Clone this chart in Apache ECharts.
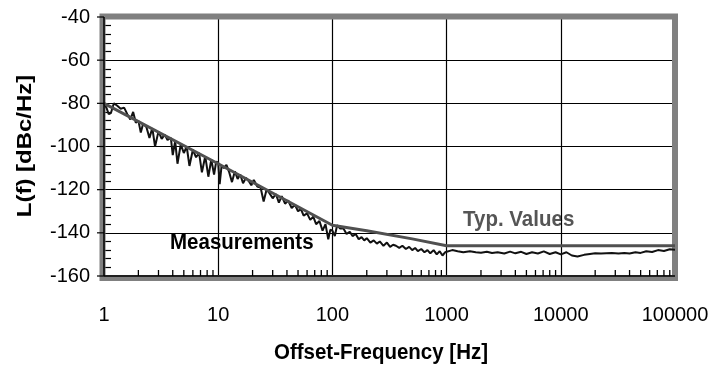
<!DOCTYPE html>
<html>
<head>
<meta charset="utf-8">
<script src="https://cdn.jsdelivr.net/npm/echarts@6/dist/echarts.min.js"></script>
<style>html,body{margin:0;padding:0;background:#fff}#c{width:714px;height:368px}</style>
</head>
<body>
<div id="c"></div>
<script>
// Measured phase noise (frequency in Hz, level in dBc/Hz)
const measFreq = [
  1, 1.05, 1.1, 1.15, 1.22, 1.3, 1.4, 1.5, 1.6, 1.7, 1.8, 1.9, 2.0, 2.1, 2.2, 2.35, 2.5, 2.65, 2.8, 3.0,
  3.2, 3.4, 3.6, 3.85, 4.0, 4.2, 4.4, 4.7, 5.0, 5.3, 5.6, 6.0, 6.4, 6.8, 7.2, 7.7, 8.2, 8.7, 9.2, 9.6,
  10, 10.3, 10.7, 11.2, 11.8, 12.5, 13.2, 14, 14.8, 15.6, 16.5, 17.5, 18.5, 19.5, 20.5, 22, 23.5, 25, 26.5, 28,
  30, 32, 34, 36, 38.5, 41, 44, 47, 50, 53, 56, 60, 64, 68, 72, 77, 82, 87, 92, 96,
  100, 105, 110, 117, 125, 133, 142, 150, 160, 170, 180, 190, 200, 215, 230, 245, 260, 280, 300, 320,
  340, 360, 385, 410, 440, 470, 500, 530, 560, 600, 640, 680, 720, 770, 820, 870, 920, 970,
  1000, 1120, 1250, 1400, 1600, 1800, 2000, 2250, 2500, 2800, 3200, 3600, 4000, 4500, 5000, 5600, 6300, 7100, 8000, 9000,
  10000, 11200, 12500, 14000, 16000, 18000, 20000, 22500, 25000, 28000, 32000, 36000, 40000, 45000, 50000, 56000, 63000, 71000, 80000, 90000, 100000
];
const measLevel = [
  -80, -82, -85, -84.5, -80, -81, -82.5, -82, -85, -87.5, -84, -89, -88, -93.5, -89.5, -91, -96, -91.5, -100, -93,
  -96.5, -94.5, -97, -96, -104, -97.5, -108, -99, -103, -100, -109, -101.5, -105, -103, -112, -104.5, -114, -106, -113, -107,
  -107.5, -117.5, -109, -110, -108.5, -112, -116.5, -111.5, -115, -113, -117, -114.5, -116, -118, -115.5, -118.5, -119, -125.5, -120, -121.5,
  -124, -122, -126, -123, -126.5, -125, -128.5, -127, -130, -129, -132, -131, -134, -132.5, -136, -134.5, -139, -136, -143, -138.5,
  -139, -141.5, -136.5, -138, -138, -140.5, -139.5, -141.5, -140.5, -143, -142, -143.5, -142.5, -144.5, -143.5, -145, -144, -146, -144.5, -146.5,
  -145.5, -146, -147, -146, -147.5, -146.5, -148, -147, -148.5, -147.5, -149, -148, -149.5, -148, -150, -148.5, -150.5, -149,
  -149.5, -148, -148.5, -149, -148.5, -149, -149.2, -148.8, -149.3, -149, -149.6, -148.7, -149.5, -148.8, -149.8, -149, -149.6, -148.6, -149.8, -149,
  -150, -149, -150.5, -151, -150.2, -149.8, -149.5, -149.6, -149.5, -149.4, -149.6, -149.3, -149.6, -149, -149.3, -148.5, -148.9, -148, -148.4, -147.6, -147.8
];
// Typical values curve
const typFreq = [1, 10, 100, 200, 500, 1000, 100000];
const typLevel = [-80, -108, -136.5, -139, -142.8, -146, -146];

// Axis ticks
const xMajorTicks = [1, 10, 100, 1000, 10000, 100000];
const xMinorTicks = [
  2, 3, 4, 5, 6, 7, 8, 9,
  20, 30, 40, 50, 60, 70, 80, 90,
  200, 300, 400, 500, 600, 700, 800, 900,
  2000, 3000, 4000, 5000, 6000, 7000, 8000, 9000,
  20000, 30000, 40000, 50000, 60000, 70000, 80000, 90000
];
const yTicks = [-160, -140, -120, -100, -80, -60, -40];

const FONT = 'Liberation Sans, Arial, Helvetica, sans-serif';
const xMin = xMajorTicks[0];
const xMax = xMajorTicks[xMajorTicks.length - 1];
const yMin = yTicks[0];
const yMax = yTicks[yTicks.length - 1];
const measData = measFreq.map((f, i) => [f, measLevel[i]]);
const typData = typFreq.map((f, i) => [f, typLevel[i]]);
const minorTickData = xMinorTicks.map(f => [f, yMin]);
const yTickData = yTicks.map(v => [xMin, v]);

const chart = echarts.init(document.getElementById('c'), null, {renderer: 'canvas'});
chart.setOption({
  animation: false,
  backgroundColor: '#ffffff',
  grid: {
    left: 104, right: 39, top: 17, bottom: 92,
    show: false
  },
  xAxis: [
    {
      type: 'log', logBase: 10, min: xMin, max: xMax,
      axisLine: {show: false},
      axisTick: {show: false},
      splitLine: {show: true, lineStyle: {color: '#000', width: 1.2}},
      axisLabel: {
        fontSize: 20, color: '#000', fontFamily: FONT, margin: 29,
        formatter: v => String(Math.round(v))
      }
    }
  ],
  yAxis: [
    {
      type: 'value', min: yMin, max: yMax, interval: 20,
      axisLine: {show: false},
      axisTick: {show: false},
      splitLine: {show: true, lineStyle: {color: '#000', width: 1.2}},
      axisLabel: {fontSize: 20, color: '#000', fontFamily: FONT, margin: 14}
    },
    {
      type: 'value', min: yMin, max: yMax, interval: 20,
      position: 'left',
      axisLine: {show: false},
      axisLabel: {show: false},
      splitLine: {show: false},
      axisTick: {show: false, inside: true},
      minorTick: {show: true, splitNumber: 5, length: 7, lineStyle: {color: '#000', width: 1.2}}
    }
  ],
  series: [
    {
      name: 'xMinorTicks', type: 'custom', xAxisIndex: 0, yAxisIndex: 0,
      data: minorTickData, silent: true, clip: false, z: 6,
      renderItem: function (params, api) {
        const p = api.coord([api.value(0), api.value(1)]);
        return {
          type: 'line',
          shape: {x1: p[0], y1: p[1], x2: p[0], y2: p[1] - 6},
          style: {stroke: '#000', lineWidth: 1.3}
        };
      }
    },
    {
      name: 'axesOverlay', type: 'custom', xAxisIndex: 0, yAxisIndex: 0,
      data: yTickData, silent: true, clip: false, z: 7,
      renderItem: function (params, api) {
        const p = api.coord([api.value(0), api.value(1)]);
        const children = [{
          type: 'line',
          shape: {x1: p[0] - 7, y1: p[1], x2: p[0], y2: p[1]},
          style: {stroke: '#000', lineWidth: 1.2}
        }];
        if (params.dataIndex === 0) {
          const bl = api.coord([xMin, yMin]);
          const tl = api.coord([xMin, yMax]);
          const br = api.coord([xMax, yMin]);
          children.push({type: 'line', shape: {x1: bl[0], y1: bl[1], x2: tl[0], y2: tl[1]}, style: {stroke: '#000', lineWidth: 1.5}});
          children.push({type: 'line', shape: {x1: bl[0], y1: bl[1], x2: br[0], y2: br[1]}, style: {stroke: '#000', lineWidth: 1.5}});
        }
        return {type: 'group', children: children};
      }
    },
    {
      name: 'Measurements', type: 'line', xAxisIndex: 0, yAxisIndex: 0,
      data: measData, showSymbol: false, symbol: 'none',
      lineStyle: {color: '#111', width: 2}, z: 3
    },
    {
      name: 'Typ. Values', type: 'line', xAxisIndex: 0, yAxisIndex: 0,
      data: typData, showSymbol: false, symbol: 'none',
      lineStyle: {color: '#505050', width: 3}, z: 4
    }
  ],
  graphic: [
    {type: 'rect', z: 1, silent: true, shape: {x: 102.5, y: 16.5, width: 572.5, height: 261.5},
      style: {fill: 'none', stroke: '#808080', lineWidth: 6}},
    {type: 'text', x: 170, y: 243, scaleY: 1.12, style: {text: 'Measurements', fontSize: 20.5, fontWeight: 'bold', fill: '#000', fontFamily: FONT, align: 'left', verticalAlign: 'middle'}},
    {type: 'text', x: 463, y: 220, scaleY: 1.12, style: {text: 'Typ. Values', fontSize: 20.5, fontWeight: 'bold', fill: '#555', fontFamily: FONT, align: 'left', verticalAlign: 'middle'}},
    {type: 'text', x: 381, y: 353, scaleY: 1.12, style: {text: 'Offset-Frequency [Hz]', fontSize: 20.5, fontWeight: 'bold', fill: '#000', fontFamily: FONT, align: 'center', verticalAlign: 'middle'}},
    {type: 'text', x: 25, y: 146, rotation: Math.PI / 2, scaleX: 1.14, style: {text: 'L(f) [dBc/Hz]', fontSize: 21, fontWeight: 'bold', fill: '#000', fontFamily: FONT, align: 'center', verticalAlign: 'middle'}}
  ]
});
</script>
</body>
</html>
